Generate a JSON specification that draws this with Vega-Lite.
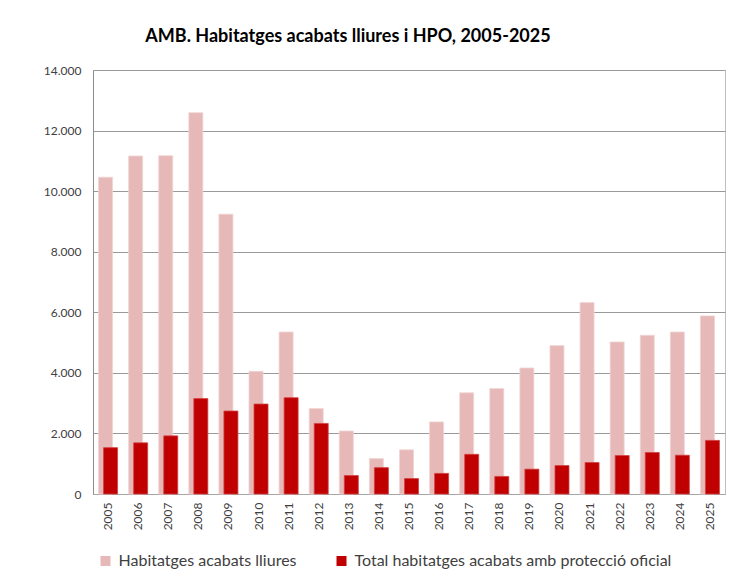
{
  "$schema": "https://vega.github.io/schema/vega-lite/v6.json",
  "width": 632,
  "height": 424,
  "autosize": "none",
  "padding": {"left": 93, "top": 70, "right": 17, "bottom": 87},
  "background": "white",
  "title": {
    "text": "AMB. Habitatges acabats lliures i HPO, 2005-2025",
    "font": "Lato",
    "fontSize": 18,
    "fontWeight": "bold",
    "color": "#000000",
    "anchor": "middle",
    "frame": "group",
    "dx": -61,
    "offset": 18
  },
  "config": {
    "font": "Lato",
    "view": {"stroke": "#bfbfbf", "strokeWidth": 1}
  },
  "data": {
    "values": [
      {"year": "2005", "serie": "Habitatges acabats lliures", "value": 10460},
      {"year": "2006", "serie": "Habitatges acabats lliures", "value": 11160},
      {"year": "2007", "serie": "Habitatges acabats lliures", "value": 11170},
      {"year": "2008", "serie": "Habitatges acabats lliures", "value": 12590},
      {"year": "2009", "serie": "Habitatges acabats lliures", "value": 9240},
      {"year": "2010", "serie": "Habitatges acabats lliures", "value": 4050},
      {"year": "2011", "serie": "Habitatges acabats lliures", "value": 5350},
      {"year": "2012", "serie": "Habitatges acabats lliures", "value": 2820},
      {"year": "2013", "serie": "Habitatges acabats lliures", "value": 2080},
      {"year": "2014", "serie": "Habitatges acabats lliures", "value": 1170},
      {"year": "2015", "serie": "Habitatges acabats lliures", "value": 1460},
      {"year": "2016", "serie": "Habitatges acabats lliures", "value": 2380},
      {"year": "2017", "serie": "Habitatges acabats lliures", "value": 3340},
      {"year": "2018", "serie": "Habitatges acabats lliures", "value": 3480},
      {"year": "2019", "serie": "Habitatges acabats lliures", "value": 4160},
      {"year": "2020", "serie": "Habitatges acabats lliures", "value": 4900},
      {"year": "2021", "serie": "Habitatges acabats lliures", "value": 6320},
      {"year": "2022", "serie": "Habitatges acabats lliures", "value": 5020},
      {"year": "2023", "serie": "Habitatges acabats lliures", "value": 5240},
      {"year": "2024", "serie": "Habitatges acabats lliures", "value": 5350},
      {"year": "2025", "serie": "Habitatges acabats lliures", "value": 5880},
      {"year": "2005", "serie": "Total habitatges acabats amb protecció oficial", "value": 1530},
      {"year": "2006", "serie": "Total habitatges acabats amb protecció oficial", "value": 1690},
      {"year": "2007", "serie": "Total habitatges acabats amb protecció oficial", "value": 1920},
      {"year": "2008", "serie": "Total habitatges acabats amb protecció oficial", "value": 3150},
      {"year": "2009", "serie": "Total habitatges acabats amb protecció oficial", "value": 2740},
      {"year": "2010", "serie": "Total habitatges acabats amb protecció oficial", "value": 2970},
      {"year": "2011", "serie": "Total habitatges acabats amb protecció oficial", "value": 3180},
      {"year": "2012", "serie": "Total habitatges acabats amb protecció oficial", "value": 2330},
      {"year": "2013", "serie": "Total habitatges acabats amb protecció oficial", "value": 610},
      {"year": "2014", "serie": "Total habitatges acabats amb protecció oficial", "value": 870},
      {"year": "2015", "serie": "Total habitatges acabats amb protecció oficial", "value": 510},
      {"year": "2016", "serie": "Total habitatges acabats amb protecció oficial", "value": 680},
      {"year": "2017", "serie": "Total habitatges acabats amb protecció oficial", "value": 1310},
      {"year": "2018", "serie": "Total habitatges acabats amb protecció oficial", "value": 580},
      {"year": "2019", "serie": "Total habitatges acabats amb protecció oficial", "value": 820},
      {"year": "2020", "serie": "Total habitatges acabats amb protecció oficial", "value": 940},
      {"year": "2021", "serie": "Total habitatges acabats amb protecció oficial", "value": 1040},
      {"year": "2022", "serie": "Total habitatges acabats amb protecció oficial", "value": 1270},
      {"year": "2023", "serie": "Total habitatges acabats amb protecció oficial", "value": 1370},
      {"year": "2024", "serie": "Total habitatges acabats amb protecció oficial", "value": 1280},
      {"year": "2025", "serie": "Total habitatges acabats amb protecció oficial", "value": 1770}
    ]
  },
  "encoding": {
    "x": {
      "field": "year",
      "type": "ordinal",
      "title": null,
      "scale": {"paddingInner": 0, "paddingOuter": 0},
      "axis": {
        "labelAngle": -90,
        "labelFontSize": 12,
        "labelColor": "#404040",
        "labelFont": "Lato",
        "labelPadding": 8,
        "labelBaseline": "middle",
        "domainColor": "#a6a6a6",
        "ticks": false,
        "grid": false
      }
    },
    "y": {
      "field": "value",
      "type": "quantitative",
      "title": null,
      "scale": {"domain": [0, 14000], "nice": false},
      "axis": {
        "values": [0, 2000, 4000, 6000, 8000, 10000, 12000, 14000],
        "labelExpr": "replace(format(datum.value, ','), ',', '.')",
        "labelFontSize": 12,
        "labelColor": "#404040",
        "labelFont": "Lato",
        "labelPadding": 12,
        "ticks": false,
        "domainColor": "#8c8c8c",
        "gridColor": "#999999",
        "gridWidth": 1
      }
    },
    "color": {
      "field": "serie",
      "type": "nominal",
      "scale": {
        "domain": ["Habitatges acabats lliures", "Total habitatges acabats amb protecció oficial"],
        "range": ["#e6b9b8", "#c00000"]
      },
      "legend": {
        "title": null,
        "orient": "none",
        "direction": "horizontal",
        "legendX": 4.5,
        "legendY": 483,
        "symbolType": "square",
        "symbolSize": 100,
        "symbolStrokeWidth": 0,
        "labelFontSize": 16,
        "labelFont": "Lato",
        "labelColor": "#404040",
        "labelOffset": 5,
        "columnPadding": 36,
        "labelLimit": 400
      }
    }
  },
  "layer": [
    {
      "transform": [{"filter": "datum.serie === 'Habitatges acabats lliures'"}],
      "mark": {"type": "bar", "width": 14, "xOffset": -2.5, "stroke": "#f0d4d3", "strokeWidth": 0.8}
    },
    {
      "transform": [{"filter": "datum.serie !== 'Habitatges acabats lliures'"}],
      "mark": {"type": "bar", "width": 14, "xOffset": 2.5, "stroke": "#d24040", "strokeWidth": 0.8}
    }
  ]
}
